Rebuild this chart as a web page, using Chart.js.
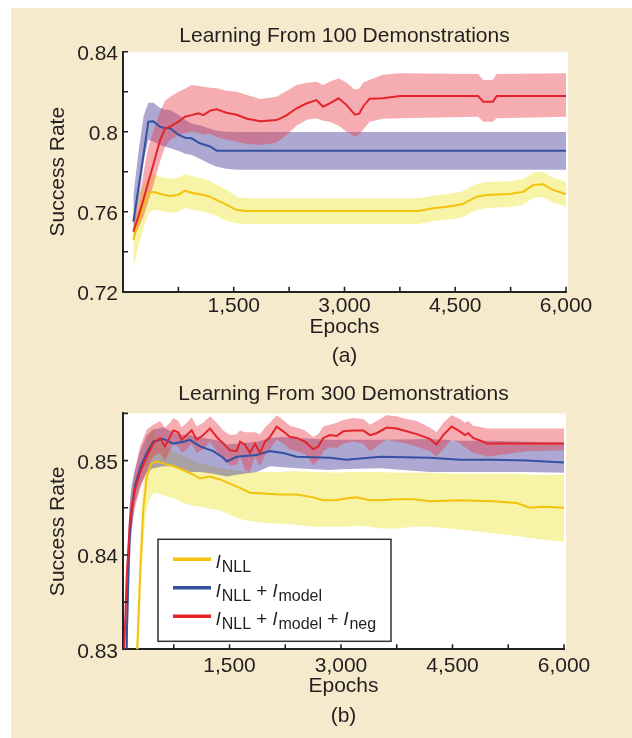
<!DOCTYPE html>
<html>
<head>
<meta charset="utf-8">
<title>Learning From Demonstrations</title>
<script src="https://cdn.jsdelivr.net/npm/chart.js@4.4.1/dist/chart.umd.min.js"></script>
<style>
  html, body { margin: 0; padding: 0; background: #fff; }
  body { width: 632px; height: 738px; position: relative; overflow: hidden; }
  .panel { position: absolute; left: 11px; top: 8px; width: 621px; height: 730px; background: #f5eacb; }
  #chartA { position: absolute; left: 0; top: 0; }
  #chartB { position: absolute; left: 0; top: 370px; }
</style>
</head>
<body>
<div class="panel"></div>
<canvas id="chartA" width="632" height="370"></canvas>
<canvas id="chartB" width="632" height="368"></canvas>
<script>
// ---------- (a) 100 demonstrations ----------
const aNllEpochs = [140, 210, 280, 340, 410, 500, 570, 640, 750, 840, 930, 1020, 1090, 1180, 1270, 1400, 1540, 1680, 4000, 4200, 4470, 4600, 4790, 4920, 5240, 5420, 5555, 5690, 5830, 6000];
const aNllMean  = [0.7458, 0.7555, 0.7635, 0.769, 0.77, 0.769, 0.7683, 0.7678, 0.7685, 0.7705, 0.7695, 0.7688, 0.7683, 0.7675, 0.7658, 0.7635, 0.7608, 0.7603, 0.7603, 0.7617, 0.7628, 0.7638, 0.7675, 0.7683, 0.7688, 0.77, 0.7733, 0.7737, 0.7708, 0.7688];
const aNllUpper = [0.758, 0.768, 0.774, 0.778, 0.7788, 0.7775, 0.777, 0.7765, 0.777, 0.7788, 0.7778, 0.777, 0.7765, 0.7755, 0.7735, 0.771, 0.7675, 0.7667, 0.7667, 0.768, 0.7692, 0.7702, 0.774, 0.7748, 0.7752, 0.7765, 0.7795, 0.78, 0.777, 0.775];
const aNllLower = [0.732, 0.743, 0.752, 0.759, 0.761, 0.7605, 0.76, 0.7595, 0.76, 0.762, 0.761, 0.7605, 0.76, 0.7592, 0.7578, 0.7555, 0.7542, 0.7538, 0.7538, 0.7552, 0.7563, 0.7573, 0.761, 0.7618, 0.7623, 0.7635, 0.7668, 0.7673, 0.7645, 0.7625];

const aModelEpochs = [140, 210, 280, 343, 410, 500, 570, 640, 750, 840, 930, 1040, 1180, 1270, 1400, 1540, 6000];
const aModelMean  = [0.755, 0.772, 0.789, 0.805, 0.8052, 0.8025, 0.8017, 0.8017, 0.7985, 0.797, 0.7967, 0.7942, 0.7926, 0.7905, 0.7905, 0.7905, 0.7905];
const aModelUpper = [0.768, 0.79, 0.808, 0.8145, 0.8145, 0.812, 0.811, 0.8108, 0.8085, 0.806, 0.804, 0.8032, 0.8015, 0.8005, 0.80, 0.7998, 0.7998];
const aModelLower = [0.749, 0.765, 0.785, 0.796, 0.795, 0.7935, 0.7925, 0.7917, 0.7905, 0.789, 0.7883, 0.7865, 0.7838, 0.7825, 0.7815, 0.781, 0.781];

const aNegEpochs = [140, 210, 280, 340, 410, 500, 570, 640, 750, 840, 930, 1020, 1090, 1180, 1270, 1400, 1540, 1680, 1860, 2080, 2220, 2350, 2490, 2620, 2710, 2800, 2920, 3030, 3140, 3200, 3250, 3340, 3520, 3750, 4810, 4880, 5010, 5060, 6000];
const aNegMean  = [0.750, 0.7578, 0.7665, 0.7745, 0.7835, 0.7955, 0.8017, 0.8025, 0.805, 0.8075, 0.8083, 0.8092, 0.8083, 0.8105, 0.8112, 0.8095, 0.8085, 0.8065, 0.8052, 0.8058, 0.8083, 0.8117, 0.8142, 0.8158, 0.8125, 0.8142, 0.8167, 0.8133, 0.8085, 0.809, 0.8125, 0.8165, 0.8167, 0.8178, 0.8178, 0.815, 0.815, 0.8178, 0.8178];
const aNegUpper = [0.753, 0.764, 0.78, 0.792, 0.80, 0.81, 0.8155, 0.8175, 0.82, 0.8215, 0.8233, 0.823, 0.8225, 0.822, 0.8217, 0.8205, 0.82, 0.8183, 0.8163, 0.8175, 0.8205, 0.8233, 0.8245, 0.825, 0.8233, 0.825, 0.8267, 0.8245, 0.821, 0.8215, 0.8245, 0.826, 0.8285, 0.8292, 0.8288, 0.8258, 0.8258, 0.8288, 0.8292];
const aNegLower = [0.746, 0.752, 0.758, 0.765, 0.773, 0.785, 0.7925, 0.796, 0.7985, 0.7995, 0.80, 0.7995, 0.7985, 0.799, 0.7975, 0.796, 0.795, 0.7938, 0.7933, 0.7945, 0.7985, 0.803, 0.806, 0.8067, 0.8055, 0.805, 0.803, 0.80, 0.7975, 0.7985, 0.8008, 0.805, 0.8065, 0.8067, 0.8075, 0.805, 0.805, 0.8067, 0.8075];

// ---------- (b) 300 demonstrations ----------
const bNllEpochs = [240, 296, 340, 386, 453, 520, 609, 744, 878, 1013, 1103, 1237, 1372, 1550, 1641, 1775, 1954, 2179, 2403, 2627, 2761, 2941, 3076, 3210, 3389, 3524, 3748, 3972, 4196, 4600, 5048, 5362, 5541, 5720, 6000];
const bNllMean  = [0.826, 0.8377, 0.8448, 0.8483, 0.8497, 0.8499, 0.8497, 0.8494, 0.849, 0.8485, 0.8481, 0.8483, 0.848, 0.8474, 0.8471, 0.8466, 0.8465, 0.8464, 0.8464, 0.8461, 0.8458, 0.8458, 0.846, 0.8461, 0.8458, 0.8458, 0.8459, 0.8459, 0.8457, 0.8458, 0.8457, 0.8455, 0.845, 0.8451, 0.845];
const bNllUpper = [0.829, 0.841, 0.848, 0.852, 0.8536, 0.8525, 0.8515, 0.851, 0.8505, 0.85, 0.8497, 0.8495, 0.8492, 0.849, 0.8489, 0.8488, 0.8488, 0.8488, 0.8489, 0.8488, 0.8488, 0.8487, 0.8488, 0.8488, 0.8488, 0.8488, 0.8487, 0.8487, 0.8487, 0.8486, 0.8486, 0.8486, 0.8485, 0.8485, 0.8485];
const bNllLower = [0.823, 0.834, 0.8415, 0.845, 0.8464, 0.8466, 0.8463, 0.846, 0.8455, 0.8452, 0.8451, 0.8449, 0.8447, 0.8441, 0.8438, 0.8436, 0.8434, 0.8433, 0.8432, 0.843, 0.843, 0.843, 0.843, 0.8431, 0.843, 0.8428, 0.8428, 0.843, 0.843, 0.8427, 0.8423, 0.842, 0.8418, 0.8416, 0.8414];

const bModelEpochs = [80, 120, 152, 184, 228, 296, 386, 475, 609, 744, 878, 968, 1103, 1282, 1416, 1462, 1596, 1865, 2044, 2223, 2403, 2851, 3076, 3524, 4196, 4600, 5048, 5497, 6000];
const bModelMean  = [0.80, 0.832, 0.8413, 0.8448, 0.8473, 0.8492, 0.8508, 0.852, 0.8523, 0.8518, 0.852, 0.8522, 0.8515, 0.851, 0.8503, 0.8499, 0.8504, 0.8506, 0.851, 0.8508, 0.8504, 0.8503, 0.8501, 0.8504, 0.8503, 0.8501, 0.8501, 0.85, 0.8498];
const bModelUpper = [0.804, 0.836, 0.845, 0.8475, 0.849, 0.851, 0.8527, 0.8533, 0.8535, 0.853, 0.8527, 0.8527, 0.8525, 0.8522, 0.852, 0.8517, 0.8518, 0.852, 0.8524, 0.8525, 0.8524, 0.8522, 0.8522, 0.8522, 0.8523, 0.8521, 0.8521, 0.852, 0.8519];
const bModelLower = [0.796, 0.828, 0.838, 0.8425, 0.8455, 0.8473, 0.8487, 0.8492, 0.8494, 0.8494, 0.849, 0.8488, 0.8488, 0.8486, 0.8484, 0.8483, 0.8485, 0.8488, 0.8494, 0.8493, 0.8492, 0.849, 0.8491, 0.8492, 0.8488, 0.8488, 0.8488, 0.8488, 0.8487];

const bNegEpochs = [67, 117, 161, 228, 296, 386, 475, 565, 632, 699, 744, 811, 856, 924, 991, 1058, 1147, 1237, 1327, 1416, 1506, 1596, 1641, 1708, 1775, 1842, 1910, 1977, 2044, 2134, 2223, 2313, 2403, 2515, 2627, 2694, 2761, 2851, 2941, 3030, 3165, 3299, 3389, 3479, 3614, 3748, 3883, 4017, 4196, 4286, 4375, 4488, 4600, 4667, 4711, 4778, 4913, 4959, 5500, 6000];
const bNegMean  = [0.826, 0.8377, 0.8437, 0.8469, 0.8487, 0.8504, 0.8518, 0.8524, 0.8515, 0.8525, 0.8532, 0.853, 0.8522, 0.8527, 0.8532, 0.8522, 0.8527, 0.8534, 0.8525, 0.8518, 0.8511, 0.851, 0.852, 0.8517, 0.8508, 0.8518, 0.8508, 0.852, 0.8525, 0.8536, 0.8531, 0.8525, 0.8524, 0.852, 0.8512, 0.8515, 0.8524, 0.8527, 0.8526, 0.8531, 0.8532, 0.8532, 0.8527, 0.8529, 0.8535, 0.8534, 0.8531, 0.8528, 0.8523, 0.8517, 0.8527, 0.8536, 0.8531, 0.8527, 0.8529, 0.8524, 0.852, 0.8518, 0.8518, 0.8518];
const bNegUpper = [0.8275, 0.839, 0.8455, 0.849, 0.8515, 0.8533, 0.8538, 0.8542, 0.8535, 0.854, 0.8545, 0.8542, 0.8535, 0.854, 0.8546, 0.8536, 0.854, 0.8547, 0.854, 0.8532, 0.8527, 0.8528, 0.8532, 0.853, 0.853, 0.853, 0.8528, 0.8535, 0.854, 0.8548, 0.8543, 0.8537, 0.8535, 0.8532, 0.8525, 0.8528, 0.8536, 0.8538, 0.854, 0.8543, 0.8545, 0.8544, 0.8538, 0.8542, 0.8548, 0.8547, 0.8544, 0.8542, 0.8535, 0.853, 0.854, 0.8548, 0.8544, 0.854, 0.8542, 0.8537, 0.8535, 0.8534, 0.8534, 0.8534];
const bNegLower = [0.8245, 0.8365, 0.842, 0.845, 0.847, 0.849, 0.8505, 0.8508, 0.85, 0.851, 0.8518, 0.8515, 0.8508, 0.8512, 0.8518, 0.8508, 0.8512, 0.852, 0.851, 0.8503, 0.8495, 0.8495, 0.8505, 0.849, 0.8488, 0.8504, 0.8494, 0.8506, 0.8512, 0.8522, 0.8518, 0.8512, 0.851, 0.8507, 0.8495, 0.85, 0.851, 0.8514, 0.8513, 0.8518, 0.852, 0.8518, 0.851, 0.8515, 0.8522, 0.852, 0.8518, 0.8515, 0.851, 0.8504, 0.8512, 0.8522, 0.8518, 0.8514, 0.8512, 0.8508, 0.8506, 0.8504, 0.851, 0.8511];

// ---------- axes ----------
const xTicks = [750, 1500, 2250, 3000, 3750, 4500, 5250, 6000];
const xLabelled = [1500, 3000, 4500, 6000];
const yTicksA = [0.72, 0.74, 0.76, 0.78, 0.8, 0.82, 0.84];
const yLabelledA = [0.72, 0.76, 0.8, 0.84];
const yTicksB = [0.83, 0.835, 0.84, 0.845, 0.85, 0.855];
const yLabelledB = [0.83, 0.84, 0.85];

// legend text pieces: i = italic, s = subscript, n = normal
const legendRows = [
  [['l', 'i'], ['NLL', 's']],
  [['l', 'i'], ['NLL', 's'], [' + ', 'n'], ['l', 'i'], ['model', 's']],
  [['l', 'i'], ['NLL', 's'], [' + ', 'n'], ['l', 'i'], ['model', 's'], [' + ', 'n'], ['l', 'i'], ['neg', 's']]
];

const FONT = '"Liberation Sans", Arial, Helvetica, sans-serif';
const textColor = '#231f20';
const axisColor = '#222';
const yellow = '#f4c10c', blue = '#3450a0', red = '#e3242b';
const yellowBand = 'rgba(240, 230, 60, 0.45)';
const blueBand = 'rgba(80, 70, 160, 0.47)';
const redBand = 'rgba(233, 60, 70, 0.42)';

Chart.defaults.font.family = FONT;
Chart.defaults.color = textColor;

const pts = (xs, ys) => xs.map((x, i) => ({ x: x, y: ys[i] }));

function series(xs, mean, upper, lower, color, band, order) {
  return [
    { data: pts(xs, upper), fill: '+1', backgroundColor: band, borderWidth: 0, pointRadius: 0, order: 10 + order },
    { data: pts(xs, lower), fill: false, borderWidth: 0, pointRadius: 0, order: 10 + order },
    { data: pts(xs, mean), fill: false, borderColor: color, borderWidth: 2, pointRadius: 0, tension: 0, order: order }
  ];
}

// white plot background
const plotBg = {
  id: 'plotBg',
  beforeDraw(chart) {
    const { ctx, chartArea: ca } = chart;
    ctx.save();
    ctx.fillStyle = '#fff';
    ctx.fillRect(ca.left, ca.top, ca.width + 2, ca.height);
    ctx.restore();
  }
};

// tick marks pointing into the plot
const inwardTicks = {
  id: 'inwardTicks',
  afterDraw(chart) {
    const { ctx, chartArea: ca, scales } = chart;
    ctx.save();
    ctx.strokeStyle = axisColor;
    ctx.lineWidth = 1.6;
    ctx.beginPath();
    scales.x.ticks.forEach(t => {
      const px = scales.x.getPixelForValue(t.value);
      ctx.moveTo(px, ca.bottom);
      ctx.lineTo(px, ca.bottom - 5);
    });
    scales.y.ticks.forEach(t => {
      const py = scales.y.getPixelForValue(t.value);
      ctx.moveTo(ca.left, py);
      ctx.lineTo(ca.left + 5, py);
    });
    ctx.stroke();
    ctx.restore();
  }
};

// boxed legend with subscripts (panel b)
const legendBox = {
  id: 'legendBox',
  afterDatasetsDraw(chart) {
    const { ctx, chartArea: ca } = chart;
    const left = ca.left + 35, top = ca.bottom - 110, w = 233, h = 102;
    const colors = [yellow, blue, red];
    ctx.save();
    ctx.fillStyle = '#fff';
    ctx.fillRect(left, top, w, h);
    ctx.strokeStyle = '#333';
    ctx.lineWidth = 1.5;
    ctx.strokeRect(left, top, w, h);
    legendRows.forEach((row, i) => {
      const cy = top + 20 + i * 28.5;
      ctx.strokeStyle = colors[i];
      ctx.lineWidth = 3.5;
      ctx.beginPath();
      ctx.moveTo(left + 15, cy);
      ctx.lineTo(left + 53, cy);
      ctx.stroke();
      let x = left + 58;
      ctx.fillStyle = textColor;
      ctx.textBaseline = 'alphabetic';
      row.forEach(([txt, kind]) => {
        if (kind === 'i') ctx.font = 'italic 19px ' + FONT;
        else if (kind === 's') ctx.font = '16px ' + FONT;
        else ctx.font = '19px ' + FONT;
        ctx.fillText(txt, x, kind === 's' ? cy + 13 : cy + 9);
        x += ctx.measureText(txt).width + (kind === 'i' ? 1.5 : 0);
      });
    });
    ctx.restore();
  }
};

function makeChart(id, cfg) {
  return new Chart(document.getElementById(id), {
    type: 'line',
    data: { datasets: cfg.datasets },
    plugins: cfg.plugins,
    options: {
      responsive: false,
      animation: false,
      layout: { padding: { left: 40, right: cfg.padRight, top: 0, bottom: cfg.padBottom } },
      plugins: {
        legend: { display: false },
        tooltip: { enabled: false },
        filler: { drawTime: 'beforeDatasetsDraw' },
        title: {
          display: true, text: cfg.title, color: textColor, fullSize: false,
          font: { size: 21, weight: 'normal' },
          padding: cfg.titlePad
        },
        subtitle: {
          display: true, text: cfg.caption, position: 'bottom', color: textColor, fullSize: false,
          font: { size: 21, weight: 'normal' },
          padding: cfg.captionPad
        }
      },
      scales: {
        x: {
          type: 'linear', min: cfg.xMin, max: 6000,
          afterBuildTicks: s => { s.ticks = xTicks.map(v => ({ value: v })); },
          afterFit: s => { s.height = cfg.xAxisHeight; },
          grid: { display: false, drawTicks: false, drawOnChartArea: false },
          border: { display: true, color: axisColor, width: 2 },
          ticks: {
            autoSkip: false, maxRotation: 0, minRotation: 0, padding: cfg.xTickPad,
            color: textColor, font: { size: 21 },
            callback: v => xLabelled.includes(v) ? v.toLocaleString('en-US') : ''
          },
          title: { display: true, text: 'Epochs', color: textColor, font: { size: 21 }, padding: { top: 0, bottom: 0 } }
        },
        y: {
          type: 'linear', min: cfg.yTicks[0], max: cfg.yTicks[cfg.yTicks.length - 1],
          afterBuildTicks: s => { s.ticks = cfg.yTicks.map(v => ({ value: v })); },
          afterFit: s => { s.width = 83; },
          grid: { display: false, drawTicks: false, drawOnChartArea: false },
          border: { display: true, color: axisColor, width: 2 },
          ticks: {
            padding: 5, labelOffset: 2.5, color: textColor, font: { size: 21 },
            callback: v => cfg.yLabelled.some(l => Math.abs(l - v) < 1e-9) ? String(v) : ''
          },
          title: { display: true, text: 'Success Rate', color: textColor, font: { size: 21 }, padding: { top: 6, bottom: 0 } }
        }
      }
    }
  });
}

// (a)
makeChart('chartA', {
  title: 'Learning From 100 Demonstrations',
  caption: '(a)',
  titlePad: { top: 23.5, bottom: 3 },
  captionPad: { top: 3.3, bottom: 0 },
  padRight: 66, padBottom: 1.4,
  xMin: 0, xAxisHeight: 48.4, xTickPad: 2,
  yTicks: yTicksA, yLabelled: yLabelledA,
  plugins: [plotBg, inwardTicks],
  datasets: [].concat(
    series(aNegEpochs, aNegMean, aNegUpper, aNegLower, red, redBand, 0),
    series(aModelEpochs, aModelMean, aModelUpper, aModelLower, blue, blueBand, 1),
    series(aNllEpochs, aNllMean, aNllUpper, aNllLower, yellow, yellowBand, 2)
  )
});

// (b)
makeChart('chartB', {
  title: 'Learning From 300 Demonstrations',
  caption: '(b)',
  titlePad: { top: 11.2, bottom: 7 },
  captionPad: { top: 4.6, bottom: 0 },
  padRight: 68, padBottom: 9.6,
  xMin: 67, xAxisHeight: 49.3, xTickPad: 4.8,
  yTicks: yTicksB, yLabelled: yLabelledB,
  plugins: [plotBg, legendBox, inwardTicks],
  datasets: [].concat(
    series(bNegEpochs, bNegMean, bNegUpper, bNegLower, red, redBand, 0),
    series(bModelEpochs, bModelMean, bModelUpper, bModelLower, blue, blueBand, 1),
    series(bNllEpochs, bNllMean, bNllUpper, bNllLower, yellow, yellowBand, 2)
  )
});
</script>
</body>
</html>
